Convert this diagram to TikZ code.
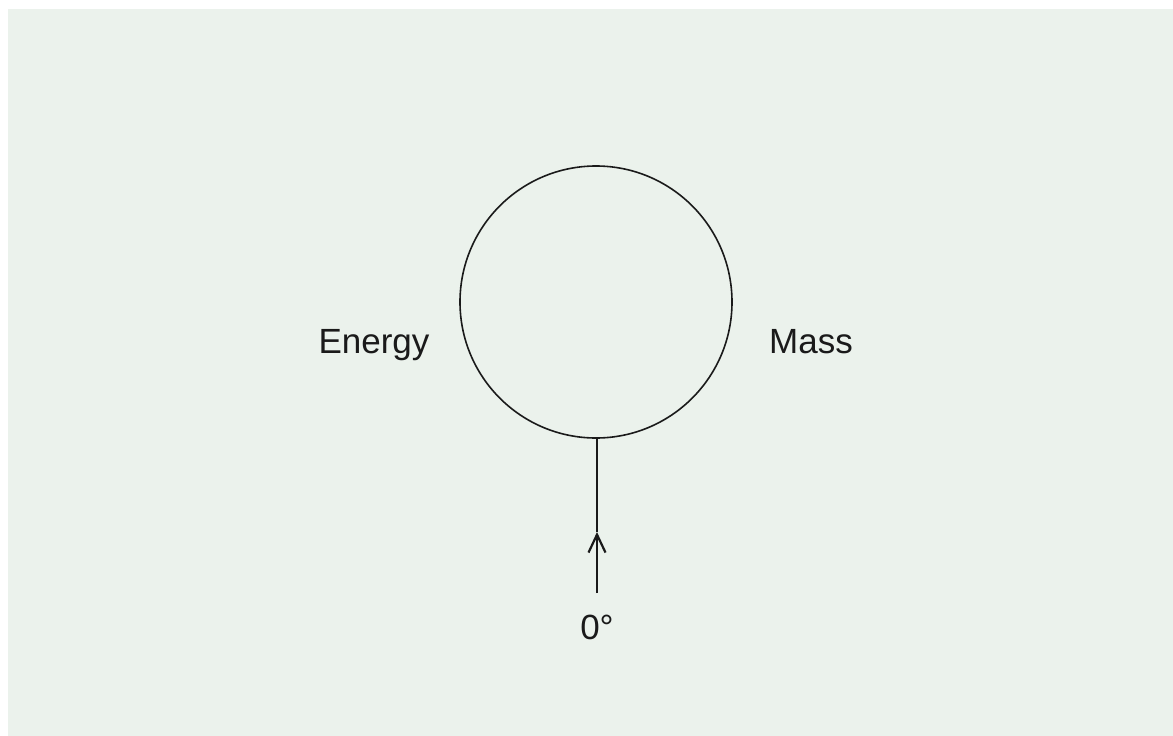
\documentclass[tikz,border=0pt]{standalone}
\usepackage{fontspec}
\setmainfont{Liberation Sans}
\usetikzlibrary{arrows.meta}
\definecolor{bg}{HTML}{EBF2EC}
\definecolor{ink}{HTML}{1A1A1A}
\tikzset{
  lab/.style={font=\fontsize{35}{40}\selectfont, text=ink, inner sep=0pt, anchor=base},
  ring/.style={circle, draw=ink, line width=1.6pt, minimum size=272pt, inner sep=0pt, outer sep=0pt},
  axis/.style={draw=ink, line width=2.2pt}
}
\begin{document}
\begin{tikzpicture}[x=1pt,y=-1pt]
\useasboundingbox (0,0) rectangle (1173,736);
\fill[white] (0,0) rectangle (1173,736);
\fill[bg] (8,9) rectangle (1173,736);
\node[ring] (c) at (596,302) {};
\node[lab] (e) at (374,353) {Energy};
\node[lab] (m) at (811,353) {Mass};
\node[lab] (z) at (597,639) {0°};
\coordinate (b) at (597,593);
\coordinate (t) at (597,532);
\draw[axis,-{Straight Barb[length=18pt,width=17pt,line width=2.2pt]}] (b) -- (t);
\draw[axis] (t) -- (t |- c.south);
\end{tikzpicture}
\end{document}
